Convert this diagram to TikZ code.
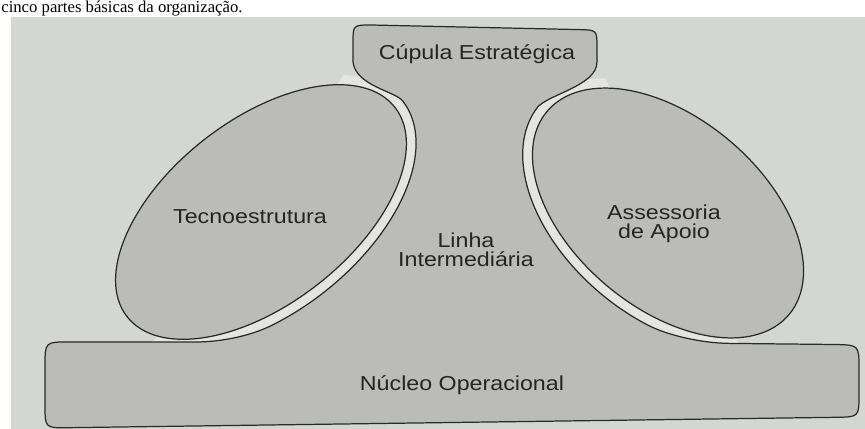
\documentclass[tikz,border=0pt]{standalone}
\usepackage{fontspec}
\setmainfont{Liberation Serif}
\newfontfamily\labelfont[FakeStretch=1.15]{Liberation Sans}
\definecolor{pagegray}{HTML}{D4D6D2}
\definecolor{bandgray}{HTML}{E4E5E2}
\definecolor{partgray}{HTML}{BBBCB9}
\definecolor{linegray}{HTML}{2A2A2A}
\definecolor{textgray}{HTML}{252525}

\begin{document}
\begin{tikzpicture}[x=0.02cm,y=-0.02cm,
    part/.style={fill=partgray, draw=linegray, line width=0.7pt},
    partlabel/.style={font=\labelfont\fontsize{11.5}{10.8}\selectfont, text=textgray, align=center, inner sep=0pt}]
		%%%%% PAGE %%%%%
		\useasboundingbox (0,0) rectangle (865,429);
		\fill[white] (0,0) rectangle (865,429);
		\fill[pagegray] (11,17) rectangle (865,429);
		\node[anchor=base west, inner sep=0pt, font=\fontsize{9.5}{11}\selectfont] (caption) at (1,12.5) {cinco partes básicas da organização.};
		
		%%%%% BANDS %%%%%
		\begin{scope}
			\clip (150,346) -- (353,62) -- (597,62) -- (740,346) -- cycle;
			\fill[bandgray] plot[domain=0:360, samples=90] ({261+141.8*cos(\x)+62.8*sin(\x)}, {212-110.9*cos(\x)+80.4*sin(\x)}) -- cycle;
			\fill[bandgray] plot[domain=0:360, samples=90] ({668+128.7*cos(\x)-67.5*sin(\x)}, {213+108.0*cos(\x)+80.4*sin(\x)}) -- cycle;
		\end{scope}
		
		%%%%% CUPULA, LINHA, NUCLEO %%%%%
		\draw[part] (353,62) -- (353,43) .. controls (353,25) .. (371,25) -- (579,29.6) .. controls (597,30) .. (597,48) -- (597,62)
			.. controls (597,86) and (547,94.5) .. (537,107.9)
			-- plot[domain=178:70, samples=50] ({668+128.7*cos(\x)-67.5*sin(\x)}, {213+108.0*cos(\x)+80.4*sin(\x)})
			.. controls (666.3,334.6) and (700,343.2) .. (730,343.4)
			-- (835,344.5) .. controls (859,345) .. (859,369) -- (859,394) .. controls (859,417) .. (836,417.3)
			-- (68,427.7) .. controls (45,428) .. (45,405) -- (45,366) .. controls (45,342) .. (69,341.9)
			-- (195,342) .. controls (225,342) and (253.6,334.4) .. (271.5,325.5)
			-- plot[domain=110:0, samples=50] ({261+141.8*cos(\x)+62.8*sin(\x)}, {212-110.9*cos(\x)+80.4*sin(\x)})
			.. controls (395,91) and (356,86) .. (353,62) -- cycle;
		
		%%%%% TECNOESTRUTURA, ASSESSORIA %%%%%
		\draw[part, rotate around={38:(261,212)}] (261,212) ellipse [x radius=3.4cm, y radius=1.84cm];
		\draw[part, rotate around={-40:(668,213)}] (668,213) ellipse [x radius=3.16cm, y radius=1.9cm];
		
		%%%%% LABELS %%%%%
		\node[partlabel, anchor=base] (cupula) at (477,60) {Cúpula Estratégica};
		\node[partlabel, anchor=base] (tecno) at (250,223) {Tecnoestrutura};
		\node[partlabel] (linha) at (466,250) {Linha\\Intermediária};
		\node[partlabel] (assessoria) at (664,224) {Assessoria\\de Apoio};
		\node[partlabel, anchor=base] (nucleo) at (462,390) {Núcleo Operacional};
		
	\end{tikzpicture}
\end{document}
